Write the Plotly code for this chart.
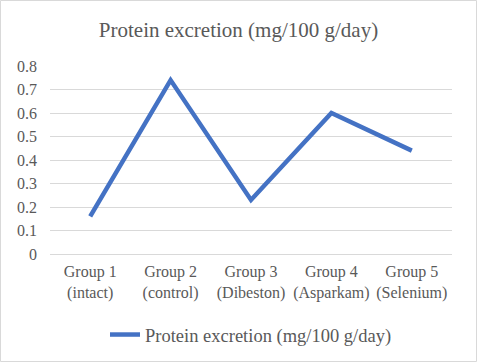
import plotly.graph_objects as go

categories = ["Group 1<br>(intact)", "Group 2<br>(control)", "Group 3<br>(Dibeston)",
              "Group 4<br>(Asparkam)", "Group 5<br>(Selenium)"]
values = [0.16, 0.74, 0.23, 0.60, 0.44]
series_name = "Protein excretion (mg/100 g/day)"
title_text = "Protein excretion (mg/100 g/day)"

W, H = 477, 362
ml, mr, mt, mb = 50, 25, 66, 108
pw, ph = W - ml - mr, H - mt - mb

fig = go.Figure()
fig.add_trace(go.Scatter(x=categories, y=values, mode="lines", name=series_name,
                         line=dict(color="#4472C4", width=4.5)))

font = dict(family="Liberation Serif", color="#595959")

fig.update_layout(
    width=W, height=H,
    margin=dict(l=ml, r=mr, t=mt, b=mb, autoexpand=False),
    paper_bgcolor="white", plot_bgcolor="white",
    font=dict(**font, size=16),
    title=dict(text=title_text, x=0.5, xanchor="center", y=1 - 30 / H, yanchor="middle",
               font=dict(**font, size=21)),
    showlegend=True,
    legend=dict(orientation="h", x=0.5, xanchor="center", y=-(335 - 254) / ph, yanchor="middle",
                font=dict(**font, size=18.5)),
    xaxis=dict(range=[-0.5, 4.5], showgrid=False, showline=False, ticks="",
               ticklabelstandoff=6, tickfont=dict(**font, size=16)),
    yaxis=dict(range=[0, 0.8], dtick=0.1, showgrid=True, gridcolor="#D9D9D9", gridwidth=1,
               zeroline=True, zerolinecolor="#D9D9D9", zerolinewidth=1,
               showline=False, ticks="", ticklabelstandoff=12,
               tickfont=dict(**font, size=16)),
)
fig.add_shape(type="rect", xref="paper", yref="paper",
              x0=-(ml - 0.5) / pw, x1=1 + (mr - 0.5) / pw,
              y0=-(mb - 0.5) / ph, y1=1 + (mt - 0.5) / ph,
              line=dict(color="#D9D9D9", width=1), layer="below")
fig.write_html("out.html", config={"displayModeBar": False},
               post_script="document.body.style.margin='0';document.body.style.overflow='hidden';")
